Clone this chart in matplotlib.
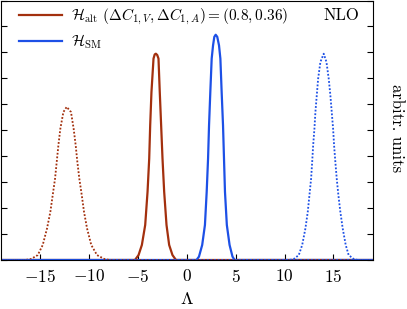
import matplotlib
matplotlib.use("Agg")
import matplotlib.pyplot as plt
import numpy as np

plt.rcParams['mathtext.fontset'] = 'cm'
plt.rcParams['font.family'] = 'serif'
plt.rcParams['font.serif'] = ['cmr10']
plt.rcParams['axes.formatter.use_mathtext'] = True
plt.rcParams['font.size'] = 12

# Data
alt_lo_x = [-19, -5.3, -4.93, -4.59, -4.25, -4.01, -3.84, -3.74, -3.61, -3.40, -3.28, -3.16,
            -3.02, -2.89, -2.76, -2.62, -2.48, -2.31, -2.07, -1.8, -1.46, -1.1, 19]
alt_lo_y = [0, 0, 0.019, 0.058, 0.135, 0.263, 0.391, 0.519, 0.647, 0.776, 0.792, 0.795,
            0.79, 0.776, 0.647, 0.519, 0.391, 0.263, 0.135, 0.058, 0.019, 0, 0]

sm_lo_x = [-19, 1.0, 1.25, 1.58, 1.86, 2.04, 2.18, 2.28, 2.41, 2.55, 2.69, 2.82, 2.96,
           3.12, 3.30, 3.44, 3.57, 3.71, 3.81, 3.91, 4.10, 4.38, 4.68, 4.9, 19]
sm_lo_y = [0, 0, 0.013, 0.058, 0.135, 0.263, 0.391, 0.519, 0.647, 0.776, 0.827, 0.86, 0.868,
           0.86, 0.827, 0.776, 0.647, 0.519, 0.391, 0.263, 0.135, 0.058, 0.013, 0, 0]

alt_hi_x = [-19, -16.5, -15.92, -15.24, -14.73, -14.29, -13.95, -13.71, -13.47, -13.3, -13.13,
            -12.93, -12.62, -12.28, -11.84, -11.57, -11.36, -11.19, -10.99, -10.74, -10.51,
            -10.2, -9.77, -9.18, -8.44, -7.9, 19]
alt_hi_y = [0, 0, 0.004, 0.019, 0.058, 0.122, 0.186, 0.25, 0.314, 0.378, 0.442,
            0.506, 0.570, 0.590, 0.570, 0.506, 0.442, 0.378, 0.314, 0.25, 0.186,
            0.122, 0.058, 0.019, 0.004, 0, 0]

sm_hi_x = [-19, 10.5, 10.95, 11.46, 11.81, 12.14, 12.38, 12.55, 12.72, 12.83, 12.93, 13.06,
           13.16, 13.30, 13.44, 13.67, 14.01, 14.29, 14.52, 14.69, 14.83, 14.97, 15.07, 15.2,
           15.34, 15.51, 15.71, 15.95, 16.26, 16.56, 17.07, 17.5, 19]
sm_hi_y = [0, 0, 0.004, 0.019, 0.058, 0.122, 0.186, 0.25, 0.314, 0.378, 0.442, 0.506,
           0.570, 0.635, 0.699, 0.763, 0.795, 0.763, 0.699, 0.635, 0.570, 0.506, 0.442, 0.378,
           0.314, 0.25, 0.186, 0.122, 0.058, 0.019, 0.004, 0, 0]

xticks = [-15, -10, -5, 0, 5, 10, 15]

red = '#a3300e'
blue = '#1d50e6'

fig = plt.figure(figsize=(4.07, 3.09), dpi=100)
ax = fig.add_axes([1/407, 49/309, 371.5/407, 259.5/309])

ax.plot(alt_lo_x, alt_lo_y, color=red, lw=1.6,
        label=r'$\mathcal{H}_{\rm alt}\ (\Delta C_{1,V}, \Delta C_{1,A}) = (0.8, 0.36)$')
ax.plot(sm_lo_x, sm_lo_y, color=blue, lw=1.6, label=r'$\mathcal{H}_{\rm SM}$')
ax.plot(alt_hi_x, alt_hi_y, color=red, lw=1.3, ls=(0, (1, 1)))
ax.plot(sm_hi_x, sm_hi_y, color=blue, lw=1.3, ls=(0, (1, 1)))

ax.set_xlim(-19, 19)
ax.set_ylim(0, 1)
ax.set_xticks(xticks)
ax.set_yticks(np.arange(0, 1.01, 0.1))
ax.set_yticklabels([])
ax.tick_params(direction='in', length=4, width=0.8, right=True, left=True, top=False,
               labelsize=12.5)
ax.tick_params(axis='x', pad=6)
ax.set_xlabel(r'$\Lambda$', fontsize=13, labelpad=4)

ax.text(1.066, 0.51, 'arbitr. units', transform=ax.transAxes, rotation=270,
        ha='center', va='center', fontsize=12)
ax.text(0.915, 0.942, 'NLO', transform=ax.transAxes, ha='center', va='center', fontsize=12)

ax.legend(loc='upper left', bbox_to_anchor=(0.033, 1.0), frameon=False, handlelength=2.8,
          handletextpad=0.55, fontsize=11, borderaxespad=0.0, labelspacing=0.35)

fig.savefig('out.png', dpi=100)
